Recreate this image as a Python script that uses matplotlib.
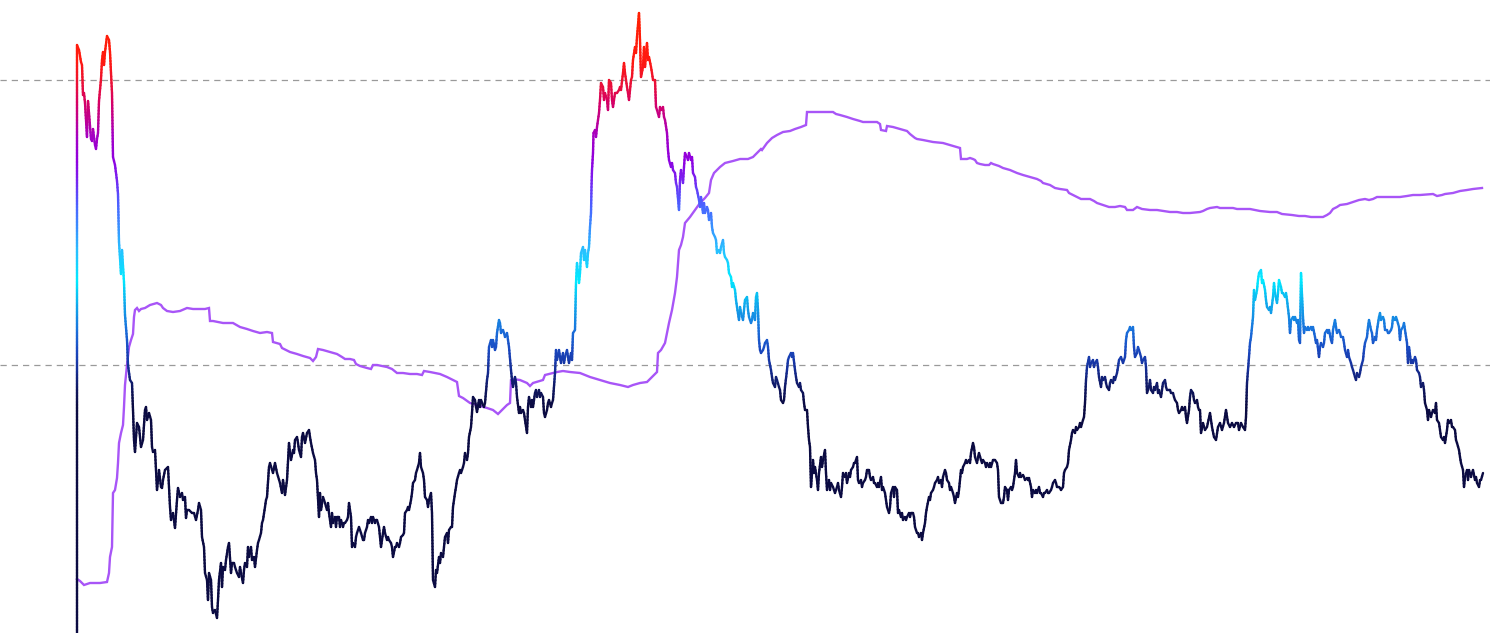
import numpy as np
import matplotlib
matplotlib.use("Agg")
import matplotlib.pyplot as plt
from matplotlib.collections import LineCollection
from matplotlib.colors import LinearSegmentedColormap, Normalize

# ---- data (x = time index, y = chart level; axis is drawn top-down) ----
price_x = [
    77, 77, 79, 81, 82, 83, 84, 85, 87, 88, 89, 91, 92, 93, 95, 96, 97, 98, 99, 101,
    102, 103, 104, 105, 107, 109, 110, 111, 112, 113, 115, 117, 118, 119, 120, 121, 122, 124, 125, 127,
    128, 130, 132, 133, 134, 135, 137, 139, 141, 143, 145, 146, 147, 149, 151, 152, 153, 155, 156, 157,
    159, 161, 162, 163, 165, 167, 168, 169, 170, 171, 173, 175, 177, 178, 180, 182, 183, 185, 186, 187,
    189, 192, 194, 196, 198, 199, 201, 202, 204, 205, 207, 208, 209, 211, 212, 213, 215, 217, 218, 219,
    221, 222, 223, 225, 226, 228, 229, 231, 232, 234, 235, 237, 239, 240, 241, 243, 244, 245, 247, 248,
    249, 251, 252, 254, 255, 257, 258, 259, 261, 262, 263, 265, 266, 267, 269, 270, 273, 275, 277, 280,
    282, 283, 285, 287, 289, 290, 291, 293, 294, 295, 297, 298, 299, 301, 302, 303, 305, 307, 309, 310,
    311, 313, 315, 316, 317, 319, 320, 321, 323, 324, 325, 327, 328, 329, 331, 332, 333, 335, 336, 337,
    339, 340, 341, 343, 344, 345, 347, 348, 349, 351, 352, 353, 355, 356, 357, 359, 360, 361, 363, 364,
    365, 367, 368, 369, 371, 372, 373, 375, 376, 377, 379, 380, 381, 383, 384, 385, 387, 388, 389, 391,
    392, 393, 395, 396, 397, 399, 400, 401, 403, 404, 405, 407, 408, 409, 411, 412, 413, 415, 416, 417,
    419, 420, 421, 423, 424, 425, 427, 428, 429, 431, 432, 433, 435, 436, 437, 439, 440, 441, 443, 444,
    445, 447, 448, 449, 451, 452, 453, 455, 456, 457, 459, 460, 461, 463, 464, 465, 467, 468, 469, 471,
    472, 473, 475, 476, 477, 479, 480, 481, 483, 484, 485, 487, 488, 489, 491, 492, 493, 495, 496, 497,
    499, 500, 501, 503, 504, 505, 507, 508, 509, 511, 512, 513, 515, 516, 517, 519, 520, 521, 523, 524,
    525, 527, 528, 529, 531, 532, 533, 535, 536, 537, 539, 540, 541, 543, 544, 545, 547, 548, 549, 551,
    552, 553, 555, 556, 557, 559, 560, 561, 563, 564, 565, 567, 568, 569, 571, 572, 573, 575, 576, 577,
    579, 580, 581, 583, 584, 585, 587, 588, 589, 590, 591, 591.5, 592, 593, 593.5, 595, 596, 597, 599, 600,
    601, 603, 604, 605, 607, 608, 609, 611, 612, 613, 615, 616, 617, 619, 620, 621, 623, 624, 625, 627,
    628, 629, 631, 632, 633, 635, 636, 637, 639, 640, 641, 643, 644, 645, 647, 648, 649, 651, 652, 653,
    655, 656, 657, 659, 660, 661, 663, 664, 665, 667, 668, 669, 671, 672, 673, 675, 676, 677, 679, 680,
    681, 683, 684, 685, 687, 688, 689, 691, 692, 693, 695, 696, 697, 699, 700, 701, 703, 704, 705, 707,
    708, 709, 711, 712, 713, 715, 716, 717, 719, 720, 721, 723, 724, 725, 727, 728, 729, 731, 732, 733,
    735, 736, 737, 739, 740, 741, 743, 744, 745, 747, 748, 749, 751, 752, 753, 755, 756, 757, 758, 759,
    760, 761, 763, 764, 765, 767, 768, 769, 771, 772, 773, 775, 776, 777, 779, 780, 781, 783, 784, 785,
    787, 788, 789, 791, 792, 793, 795, 796, 797, 799, 800, 801, 803, 804, 805, 807, 808, 809, 810, 811,
    813, 814, 815, 817, 818, 819, 821, 822, 823, 825, 826, 827, 829, 830, 831, 833, 834, 835, 837, 838,
    839, 841, 842, 843, 845, 846, 847, 849, 850, 851, 853, 854, 855, 857, 858, 859, 861, 862, 863, 865,
    866, 867, 869, 870, 871, 873, 874, 875, 877, 878, 879, 881, 882, 883, 885, 886, 887, 889, 890, 891,
    893, 894, 895, 897, 898, 899, 901, 902, 903, 905, 906, 907, 909, 910, 911, 913, 914, 915, 917, 918,
    919, 921, 922, 923, 925, 926, 927, 929, 930, 931, 933, 934, 935, 937, 938, 939, 941, 942, 943, 945,
    946, 947, 949, 950, 951, 953, 954, 955, 957, 958, 959, 961, 962, 963, 965, 966, 967, 969, 970, 971,
    973, 974, 975, 977, 978, 979, 981, 982, 983, 985, 986, 987, 989, 990, 991, 993, 994, 995, 997, 998,
    999, 1000, 1001, 1003, 1004, 1005, 1007, 1008, 1009, 1011, 1012, 1013, 1015, 1016, 1017, 1019, 1020, 1021, 1023, 1024,
    1025, 1027, 1028, 1029, 1031, 1032, 1033, 1035, 1036, 1037, 1039, 1040, 1041, 1043, 1044, 1045, 1047, 1048, 1049, 1051,
    1052, 1053, 1055, 1056, 1057, 1059, 1060, 1061, 1063, 1064, 1065, 1067, 1068, 1069, 1071, 1072, 1073, 1075, 1076, 1077,
    1079, 1080, 1081, 1083, 1084, 1085, 1086, 1087, 1089, 1090, 1091, 1093, 1094, 1095, 1097, 1098, 1099, 1101, 1102, 1103,
    1105, 1106, 1107, 1109, 1110, 1111, 1113, 1114, 1115, 1117, 1118, 1119, 1121, 1122, 1123, 1125, 1126, 1127, 1129, 1130,
    1131, 1133, 1134, 1135, 1137, 1138, 1139, 1141, 1142, 1143, 1145, 1146, 1147, 1149, 1150, 1151, 1153, 1154, 1155, 1157,
    1158, 1159, 1161, 1162, 1163, 1165, 1166, 1167, 1169, 1170, 1171, 1173, 1174, 1175, 1177, 1178, 1179, 1181, 1182, 1183,
    1185, 1186, 1187, 1189, 1190, 1191, 1193, 1194, 1195, 1197, 1198, 1199, 1200, 1201, 1203, 1205, 1207, 1210, 1212, 1214,
    1216, 1218, 1220, 1222, 1224, 1226, 1228, 1230, 1232, 1234, 1236, 1238, 1239, 1241, 1243, 1245, 1246, 1247, 1249, 1250,
    1251, 1253, 1254, 1255, 1257, 1258, 1259, 1261, 1262, 1263, 1265, 1266, 1267, 1269, 1270, 1271, 1273, 1274, 1275, 1277,
    1278, 1279, 1281, 1282, 1283, 1285, 1286, 1287, 1289, 1290, 1291, 1293, 1294, 1295, 1297, 1298, 1299, 1300, 1301, 1303,
    1304, 1305, 1307, 1308, 1309, 1311, 1312, 1313, 1315, 1316, 1317, 1319, 1320, 1321, 1323, 1324, 1325, 1327, 1328, 1329,
    1331, 1332, 1333, 1335, 1336, 1337, 1339, 1340, 1341, 1343, 1344, 1345, 1347, 1348, 1349, 1351, 1352, 1353, 1355, 1356,
    1357, 1359, 1360, 1361, 1363, 1364, 1365, 1367, 1368, 1369, 1371, 1372, 1373, 1375, 1376, 1377, 1379, 1380, 1381, 1383,
    1384, 1385, 1387, 1388, 1389, 1391, 1392, 1393, 1395, 1396, 1397, 1399, 1400, 1401, 1403, 1404, 1405, 1407, 1408, 1409,
    1411, 1412, 1413, 1415, 1416, 1417, 1419, 1420, 1421, 1423, 1424, 1425, 1427, 1428, 1429, 1431, 1432, 1433, 1435, 1436,
    1437, 1439, 1440, 1441, 1443, 1444, 1445, 1447, 1448, 1449, 1451, 1452, 1453, 1455, 1456, 1457, 1459, 1460, 1461, 1463,
    1464, 1465, 1467, 1468, 1469, 1471, 1472, 1473, 1475, 1476, 1477, 1479, 1480, 1481, 1483,
]
price_y = [
    633, 45, 50, 62, 65, 95, 93, 103, 137, 101, 113, 139, 141, 129, 145, 149, 139, 133, 101, 79,
    60, 52, 65, 52, 36, 40, 52, 73, 93, 157, 165, 181, 194, 242, 258, 274, 250, 282, 315, 340,
    365, 380, 383, 410, 440, 452, 423, 427, 447, 440, 410, 407, 420, 413, 420, 447, 452, 450, 470, 490,
    470, 487, 488, 480, 470, 468, 467, 487, 507, 520, 513, 528, 500, 488, 497, 493, 500, 497, 518, 510,
    510, 513, 513, 520, 510, 503, 510, 537, 547, 573, 580, 600, 573, 580, 607, 613, 610, 618, 600, 580,
    563, 587, 567, 570, 560, 547, 543, 573, 563, 563, 567, 573, 577, 567, 573, 583, 570, 563, 567, 547,
    557, 547, 560, 557, 567, 550, 543, 540, 533, 523, 520, 507, 500, 497, 467, 463, 473, 463, 473, 483,
    493, 480, 495, 480, 443, 453, 460, 450, 453, 440, 437, 443, 450, 457, 437, 433, 443, 433, 430, 437,
    443, 453, 460, 473, 480, 517, 493, 510, 497, 500, 503, 510, 503, 513, 527, 513, 523, 517, 527, 517,
    517, 527, 520, 527, 523, 523, 520, 517, 503, 517, 547, 543, 547, 537, 533, 527, 530, 533, 540, 540,
    533, 527, 520, 523, 517, 523, 517, 523, 520, 520, 527, 537, 547, 533, 527, 533, 540, 537, 540, 543,
    547, 557, 547, 547, 543, 547, 543, 537, 535, 533, 513, 510, 507, 510, 500, 493, 483, 480, 473, 470,
    463, 453, 467, 473, 480, 497, 500, 507, 500, 493, 513, 580, 587, 570, 573, 557, 563, 553, 557, 547,
    537, 533, 543, 530, 527, 527, 507, 493, 487, 480, 473, 470, 473, 467, 463, 453, 460, 453, 437, 427,
    413, 397, 400, 407, 412, 400, 407, 400, 405, 407, 403, 380, 373, 347, 340, 347, 340, 350, 347, 333,
    320, 323, 333, 330, 333, 337, 333, 340, 347, 370, 380, 387, 377, 383, 397, 413, 407, 413, 410, 413,
    420, 433, 407, 397, 407, 400, 407, 393, 390, 397, 390, 397, 393, 397, 413, 417, 410, 403, 400, 407,
    403, 400, 373, 350, 360, 350, 357, 363, 353, 363, 357, 350, 357, 363, 353, 360, 333, 330, 283, 263,
    283, 273, 253, 247, 260, 250, 267, 253, 247, 227, 213, 187, 170, 153, 133, 130, 137, 127, 113, 100,
    83, 87, 100, 93, 100, 110, 80, 83, 100, 107, 93, 93, 93, 90, 87, 90, 73, 63, 73, 87,
    93, 100, 80, 77, 60, 47, 53, 37, 13, 40, 77, 67, 47, 67, 43, 60, 57, 67, 73, 80,
    80, 107, 110, 117, 107, 110, 107, 117, 120, 133, 150, 160, 167, 163, 170, 173, 183, 187, 210, 180,
    170, 183, 167, 153, 157, 160, 153, 160, 157, 173, 177, 187, 190, 200, 207, 197, 213, 203, 213, 207,
    210, 220, 213, 227, 233, 237, 240, 253, 250, 253, 247, 240, 253, 257, 260, 263, 273, 277, 287, 283,
    290, 300, 307, 320, 307, 313, 320, 310, 300, 297, 310, 317, 323, 320, 313, 320, 297, 293, 310, 340,
    350, 353, 350, 347, 343, 340, 347, 360, 370, 377, 383, 387, 377, 380, 387, 390, 400, 403, 400, 387,
    370, 360, 357, 353, 357, 353, 370, 377, 383, 387, 383, 390, 393, 403, 410, 410, 427, 440, 447, 487,
    460, 473, 467, 480, 490, 473, 457, 467, 460, 450, 473, 490, 480, 490, 483, 487, 490, 493, 487, 483,
    490, 497, 487, 473, 477, 473, 483, 473, 477, 470, 467, 463, 463, 457, 480, 483, 480, 487, 483, 480,
    477, 470, 470, 477, 480, 477, 483, 483, 487, 483, 487, 477, 490, 487, 493, 500, 507, 513, 507, 493,
    487, 497, 487, 490, 513, 510, 517, 513, 520, 517, 520, 517, 513, 517, 513, 513, 517, 527, 533, 533,
    537, 533, 540, 533, 523, 513, 507, 497, 500, 493, 490, 487, 483, 480, 477, 483, 480, 487, 477, 470,
    473, 480, 483, 490, 487, 493, 497, 503, 493, 497, 490, 470, 473, 467, 463, 460, 463, 460, 463, 453,
    443, 447, 457, 463, 457, 453, 460, 463, 460, 463, 467, 463, 467, 463, 467, 460, 460, 460, 463, 470,
    497, 500, 503, 503, 497, 487, 490, 500, 490, 487, 490, 487, 473, 460, 473, 477, 473, 477, 475, 477,
    480, 478, 480, 478, 487, 497, 490, 493, 490, 493, 487, 493, 493, 497, 493, 493, 490, 493, 493, 490,
    487, 483, 480, 483, 487, 487, 488, 490, 487, 473, 470, 467, 463, 450, 440, 433, 430, 433, 427, 430,
    427, 423, 427, 420, 417, 403, 380, 367, 357, 367, 363, 360, 367, 363, 360, 367, 377, 387, 377, 380,
    377, 383, 387, 390, 383, 380, 383, 377, 380, 373, 367, 360, 357, 360, 363, 357, 340, 333, 330, 327,
    330, 327, 347, 357, 353, 347, 350, 357, 363, 360, 357, 367, 393, 387, 380, 390, 393, 387, 390, 383,
    393, 390, 397, 390, 383, 380, 387, 390, 390, 390, 393, 393, 397, 400, 403, 410, 413, 410, 407, 410,
    407, 417, 423, 410, 397, 390, 393, 400, 403, 400, 407, 410, 410, 433, 423, 430, 427, 413, 427, 437,
    440, 427, 423, 430, 423, 410, 423, 427, 423, 427, 423, 423, 430, 423, 427, 430, 417, 383, 357, 343,
    337, 317, 290, 300, 290, 280, 273, 270, 283, 280, 290, 300, 307, 310, 307, 313, 297, 283, 293, 303,
    293, 280, 287, 293, 293, 297, 293, 300, 317, 333, 320, 317, 320, 317, 323, 320, 340, 343, 273, 317,
    333, 327, 330, 327, 330, 327, 330, 327, 337, 343, 340, 357, 347, 343, 347, 343, 333, 330, 333, 330,
    340, 343, 330, 320, 327, 333, 330, 333, 337, 337, 343, 350, 357, 350, 357, 363, 367, 370, 377, 380,
    373, 377, 373, 367, 360, 350, 343, 337, 327, 320, 330, 333, 343, 337, 340, 330, 317, 313, 320, 317,
    320, 330, 330, 333, 333, 330, 327, 317, 320, 317, 320, 327, 340, 330, 327, 323, 330, 343, 363, 347,
    363, 360, 363, 357, 360, 370, 373, 377, 387, 383, 390, 403, 410, 420, 410, 417, 413, 410, 413, 403,
    420, 423, 430, 437, 440, 437, 443, 430, 420, 423, 420, 427, 427, 430, 440, 443, 450, 457, 463, 470,
    487, 477, 470, 480, 470, 477, 473, 470, 480, 477, 483, 487, 480, 480, 473,
]

ratio_x = [
    77, 80, 84, 90, 100, 107, 109, 110, 112, 113, 115, 117, 118, 119, 121, 123, 124, 125, 127, 129,
    131, 133, 134, 135, 137, 139, 141, 145, 150, 157, 161, 163, 167, 173, 180, 187, 193, 200, 205, 209,
    210, 213, 223, 233, 240, 247, 253, 260, 267, 272, 273, 280, 282, 290, 297, 303, 310, 313, 316, 318,
    323, 330, 337, 342, 345, 350, 354, 356, 360, 367, 371, 373, 377, 387, 392, 397, 403, 410, 417, 422,
    424, 430, 435, 440, 447, 453, 457, 459, 463, 470, 477, 487, 493, 498, 500, 503, 507, 510, 511, 513,
    520, 527, 530, 533, 543, 545, 553, 557, 563, 570, 580, 590, 600, 610, 620, 628, 633, 640, 647, 652,
    657, 658, 661, 665, 667, 669, 672, 675, 677, 679, 681, 683, 685, 690, 695, 700, 705, 709, 711, 714,
    720, 725, 733, 740, 748, 753, 757, 761, 762, 767, 772, 777, 783, 790, 795, 801, 806, 807, 820, 827,
    833, 836, 840, 847, 853, 860, 863, 877, 880, 881, 886, 887, 893, 900, 907, 910, 915, 917, 923, 933,
    943, 953, 960, 961, 967, 970, 973, 975, 977, 980, 985, 989, 991, 993, 999, 1003, 1010, 1017, 1023, 1030,
    1037, 1041, 1043, 1050, 1055, 1060, 1067, 1069, 1077, 1081, 1090, 1094, 1097, 1103, 1109, 1115, 1120, 1125, 1127, 1133,
    1137, 1142, 1150, 1157, 1170, 1177, 1183, 1190, 1200, 1203, 1207, 1210, 1217, 1220, 1233, 1237, 1250, 1260, 1270, 1277,
    1282, 1292, 1299, 1305, 1311, 1323, 1327, 1330, 1333, 1337, 1340, 1347, 1353, 1359, 1365, 1369, 1373, 1377, 1387, 1400,
    1407, 1413, 1420, 1433, 1437, 1442, 1445, 1453, 1460, 1467, 1473, 1482,
]
ratio_y = [
    579, 581, 585, 583, 583, 582, 573, 557, 547, 493, 490, 478, 463, 443, 433, 425, 407, 385, 365, 347,
    340, 334, 317, 310, 308, 311, 309, 308, 305, 303, 305, 308, 311, 312, 311, 308, 309, 309, 309, 308,
    321, 321, 323, 323, 327, 329, 331, 333, 332, 333, 342, 344, 348, 352, 354, 356, 358, 361, 357, 349,
    350, 352, 354, 357, 359, 359, 360, 364, 366, 368, 369, 365, 365, 367, 369, 373, 373, 374, 374, 375,
    371, 372, 373, 374, 377, 380, 382, 396, 398, 403, 405, 408, 410, 414, 412, 409, 405, 403, 380, 379,
    380, 383, 386, 383, 380, 375, 373, 372, 371, 372, 373, 377, 380, 383, 385, 387, 385, 383, 382, 377,
    372, 353, 350, 343, 333, 323, 310, 293, 277, 250, 245, 237, 223, 217, 210, 203, 198, 193, 180, 173,
    167, 163, 161, 159, 159, 157, 153, 149, 150, 143, 138, 135, 132, 131, 129, 127, 125, 112, 112, 112,
    112, 114, 115, 117, 119, 121, 122, 122, 124, 130, 131, 126, 127, 129, 131, 134, 138, 139, 140, 142,
    143, 146, 148, 159, 159, 158, 159, 160, 163, 164, 165, 165, 163, 164, 166, 168, 170, 173, 175, 177,
    179, 181, 183, 185, 188, 189, 190, 193, 197, 199, 199, 201, 203, 205, 207, 207, 206, 207, 210, 210,
    207, 209, 210, 210, 212, 212, 213, 213, 212, 211, 209, 208, 207, 208, 208, 209, 209, 211, 212, 212,
    214, 215, 216, 216, 217, 217, 215, 213, 209, 207, 205, 204, 202, 200, 199, 200, 199, 197, 197, 197,
    196, 195, 195, 194, 196, 195, 194, 193, 191, 190, 189, 188,
]

grid_levels = [80, 365]

# ---- colour scale for the price line (by level) ----
stops = [
    (0, "#ff2200"), (60, "#ff1a10"), (85, "#e8103a"), (100, "#d80060"),
    (118, "#c00090"), (135, "#a400c4"), (160, "#9000e0"), (178, "#7a20f0"),
    (200, "#5058ff"), (225, "#3a8cff"), (250, "#28c0ff"), (280, "#00eaff"),
    (305, "#10a8ec"), (330, "#1a70dc"), (350, "#1a48c0"), (368, "#16309a"),
    (385, "#101a68"), (405, "#0b0b42"), (633, "#0b0b42"),
]
cmap = LinearSegmentedColormap.from_list("lvl", [(p / 633, c) for p, c in stops])
norm = Normalize(0, 633)

fig = plt.figure(figsize=(14.9, 6.33), dpi=100)
ax = fig.add_axes([0, 0, 1, 1])
ax.set_xlim(0, 1490)
ax.set_ylim(633, 0)
ax.axis("off")

for g in grid_levels:
    ax.axhline(g, color="#9a9a9a", lw=0.9, ls=(0, (5, 4)), zorder=1)

ax.plot(ratio_x, ratio_y, color="#a855f7", lw=1.7, zorder=2,
        solid_joinstyle="miter")

# gradient line: split each step into short pieces so colour follows level
px = np.asarray(price_x, float)
py = np.asarray(price_y, float)
segs, vals = [], []
for i in range(len(px) - 1):
    n = max(1, int(abs(py[i + 1] - py[i]) / 3))
    xs = np.linspace(px[i], px[i + 1], n + 1)
    ys = np.linspace(py[i], py[i + 1], n + 1)
    for k in range(n):
        segs.append([(xs[k], ys[k]), (xs[k + 1], ys[k + 1])])
        vals.append((ys[k] + ys[k + 1]) / 2)
lc = LineCollection(segs, cmap=cmap, norm=norm, linewidths=1.7, zorder=3)
lc.set_array(np.asarray(vals))
lc.set_capstyle("round")
lc.set_joinstyle("round")
ax.add_collection(lc)

fig.savefig("out.png", dpi=100, facecolor="white")
